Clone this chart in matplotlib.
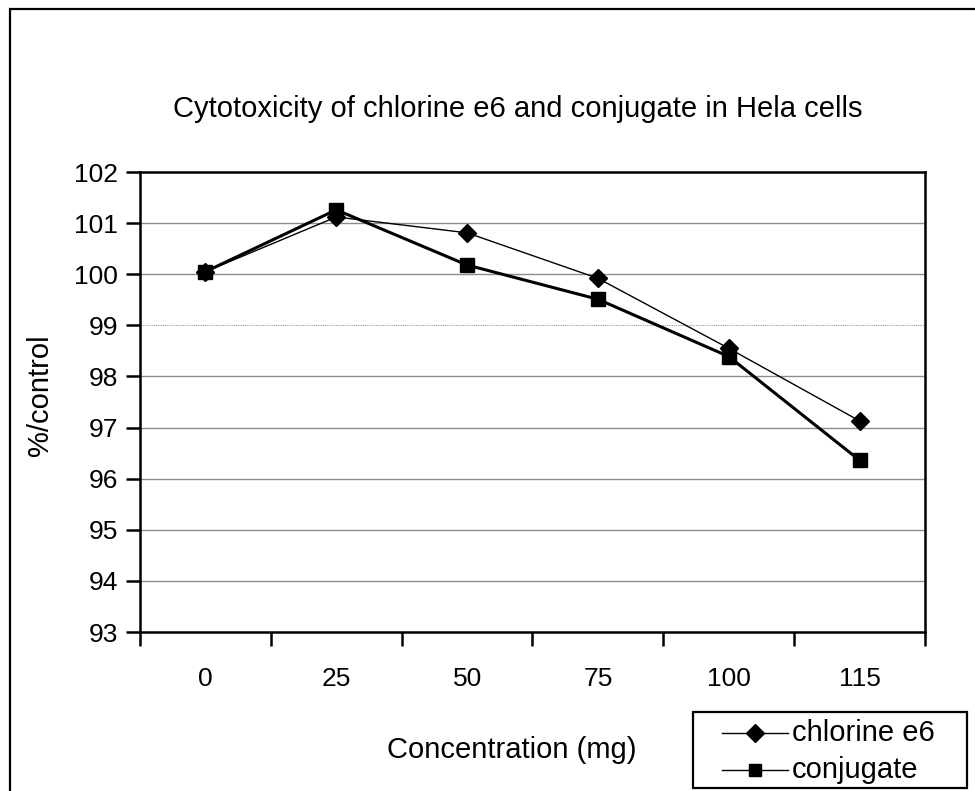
import matplotlib
matplotlib.use("Agg")
import matplotlib.pyplot as plt
from matplotlib.patches import Rectangle
from matplotlib.lines import Line2D

plt.rcParams['font.family'] = ['Liberation Sans', 'DejaVu Sans']

categories = ["0", "25", "50", "75", "100", "115"]
chlorine_e6 = [100.05, 101.12, 100.81, 99.92, 98.55, 97.13]
conjugate = [100.05, 101.26, 100.18, 99.51, 98.39, 96.36]
y_ticks = [93, 94, 95, 96, 97, 98, 99, 100, 101, 102]
series_names = ["chlorine e6", "conjugate"]

W, H = 975, 791
FS = 19      # tick labels
FT = 21      # word labels
fig = plt.figure(figsize=(W / 100, H / 100), dpi=100)


def fx(px):
    return px / W


def fy(py):
    return 1 - py / H


# outer chart border
fig.patches.append(Rectangle((fx(10), -0.05), 1.2, fy(9) + 0.05,
                             transform=fig.transFigure, fill=False,
                             edgecolor='black', linewidth=1.6, zorder=0))

ax = fig.add_axes([fx(140), fy(632), 785 / W, 460 / H])
x = list(range(len(categories)))

for v in y_ticks[1:-1]:
    if v == 99:
        ax.axhline(v, color='#9a9a9a', linewidth=0.8, linestyle=(0, (1, 1)), zorder=1)
    else:
        ax.axhline(v, color='#8c8c8c', linewidth=1.0, zorder=1)

ax.plot(x, chlorine_e6, color='black', linewidth=1.0, marker='D', markersize=9.5,
        zorder=3)
ax.plot(x, conjugate, color='black', linewidth=2.2, marker='s', markersize=10,
        zorder=3)

ax.set_xlim(-0.5, len(categories) - 0.5)
ax.set_ylim(93, 102)
ax.set_yticks(y_ticks)
ax.set_yticklabels([str(v) for v in y_ticks], fontsize=FS)
ax.set_xticks(x)
ax.set_xticklabels(categories, fontsize=FS)
ax.tick_params(axis='x', length=0, pad=25)
ax.set_xticks([i - 0.5 for i in range(len(categories) + 1)], minor=True)
ax.tick_params(axis='x', which='minor', length=10, width=1.8, direction='out')
ax.tick_params(axis='y', length=10, width=1.8, direction='out', pad=6)
for s in ax.spines.values():
    s.set_linewidth(1.8)
    s.set_color('black')

fig.text(fx(518), fy(109), "Cytotoxicity of chlorine e6 and conjugate in Hela cells",
         ha='center', va='center', fontsize=FT)
fig.text(fx(512), fy(750), "Concentration (mg)", ha='center', va='center', fontsize=FT)
fig.text(fx(40), fy(395), "%/control", ha='center', va='center', fontsize=FT,
         rotation=90)

# legend box
fig.patches.append(Rectangle((fx(693), fy(788)), (967 - 693) / W, (788 - 712) / H,
                             transform=fig.transFigure, fill=True, facecolor='white',
                             edgecolor='black', linewidth=1.6, zorder=5))
legend_styles = [('D', 9.5), ('s', 9)]
for i, (name, (mk, ms)) in enumerate(zip(series_names, legend_styles)):
    yy = fy(733 + 37 * i)
    fig.add_artist(Line2D([fx(722), fx(788)], [yy, yy], color='black', linewidth=1.0,
                          transform=fig.transFigure, zorder=6))
    fig.add_artist(Line2D([fx(755)], [yy], color='black', marker=mk, markersize=ms,
                          linestyle='none', transform=fig.transFigure, zorder=7))
    fig.text(fx(792), yy, name, ha='left', va='center', fontsize=FT, zorder=8)

fig.savefig("out.png", dpi=100)
